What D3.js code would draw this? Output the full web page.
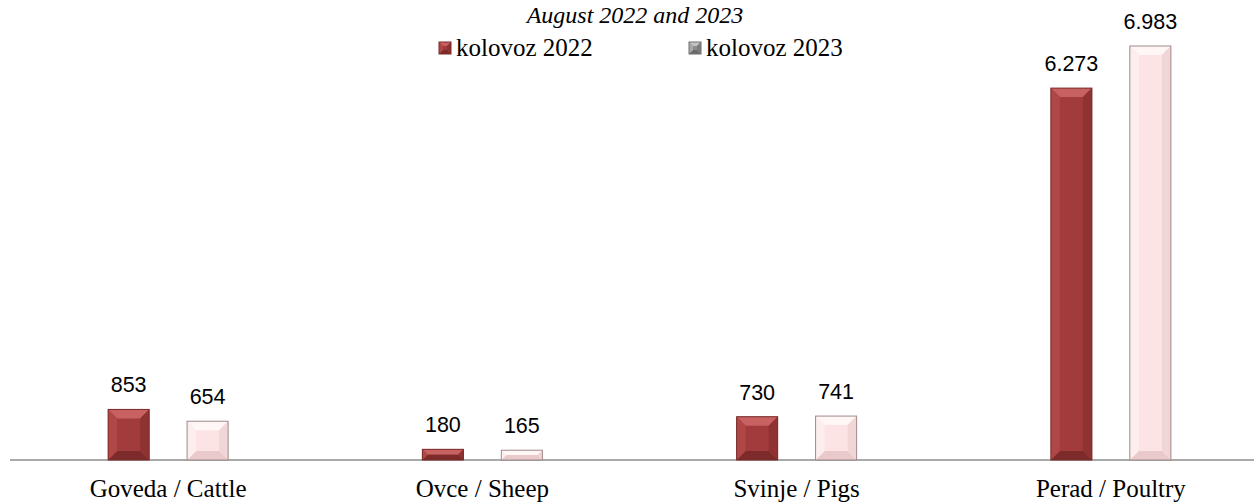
<!DOCTYPE html>
<html>
<head>
<meta charset="utf-8">
<script src="https://cdn.jsdelivr.net/npm/d3@7"></script>
<style>
  body { margin: 0; background: #fff; }
  svg { display: block; }
</style>
</head>
<body>
<svg id="chart" width="1254" height="502"></svg>
<script>
// data
const categories = ["Goveda / Cattle", "Ovce / Sheep", "Svinje / Pigs", "Perad / Poultry"];
const series = ["kolovoz 2022", "kolovoz 2023"];
const values2022 = [853, 180, 730, 6273];
const values2023 = [654, 165, 741, 6983];
const valueLabels2022 = ["853", "180", "730", "6.273"];
const valueLabels2023 = ["654", "165", "741", "6.983"];
const title = "August 2022 and 2023";

const width = 1254, height = 502;
const baseY = 460;

const svg = d3.select("#chart");

// palettes for the bevelled bars: face, top, bottom, sides, border
const styles = {
  "kolovoz 2022": { face: "#a23b3b", top: "#c86262", bottom: "#7d2a2a", left: "#b04747", right: "#8f3232", stroke: "#7a2a2a" },
  "kolovoz 2023": { face: "#fde4e4", top: "#fff6f6", bottom: "#e9c9c9", left: "#fdeeee", right: "#f0d6d6", stroke: "#a08a8a" }
};
const legendStyles = {
  "kolovoz 2022": styles["kolovoz 2022"],
  "kolovoz 2023": { face: "#8c8c8c", top: "#c4c4c4", bottom: "#6a6a6a", left: "#a8a8a8", right: "#7c7c7c", stroke: "#6e6e6e" }
};

const x0 = d3.scaleBand().domain(categories).range([11, 1268]).padding(0);
const bw = x0.bandwidth();
const x1 = d3.scaleBand().domain(series).range([bw / 2 - 60, bw / 2 + 60]).paddingInner(0.48);
const y = d3.scaleLinear().domain([0, 7000]).range([baseY, 45]);

function bevel(g, x, yTop, w, h, st, depth) {
  const d = Math.min(depth, h / 2, w / 2);
  const pts = a => a.map(p => p.join(",")).join(" ");
  g.append("rect").attr("x", x).attr("y", yTop).attr("width", w).attr("height", h).attr("fill", st.face);
  g.append("polygon").attr("fill", st.top)
    .attr("points", pts([[x, yTop], [x + w, yTop], [x + w - d, yTop + d], [x + d, yTop + d]]));
  g.append("polygon").attr("fill", st.bottom)
    .attr("points", pts([[x, yTop + h], [x + w, yTop + h], [x + w - d, yTop + h - d], [x + d, yTop + h - d]]));
  g.append("polygon").attr("fill", st.left)
    .attr("points", pts([[x, yTop], [x + d, yTop + d], [x + d, yTop + h - d], [x, yTop + h]]));
  g.append("polygon").attr("fill", st.right)
    .attr("points", pts([[x + w, yTop], [x + w - d, yTop + d], [x + w - d, yTop + h - d], [x + w, yTop + h]]));
  g.append("rect").attr("x", x).attr("y", yTop).attr("width", w).attr("height", h)
    .attr("fill", "none").attr("stroke", st.stroke).attr("stroke-width", 1);
}

// title, pushed just low enough to stay inside the frame
svg.append("text")
  .attr("x", 635).attr("y", 23)
  .attr("text-anchor", "middle")
  .attr("font-family", "'Liberation Serif', serif")
  .attr("font-style", "italic")
  .attr("font-size", 24)
  .text(title);

// legend
const legendX = [439, 689];
series.forEach((s, i) => {
  const lg = svg.append("g");
  bevel(lg, legendX[i], 42, 12, 12, legendStyles[s], 4);
  lg.append("text")
    .attr("x", legendX[i] + 17).attr("y", 56)
    .attr("font-family", "'Liberation Serif', serif")
    .attr("font-size", 25)
    .text(s);
});

// axis line
svg.append("line")
  .attr("x1", 10).attr("x2", width)
  .attr("y1", baseY).attr("y2", baseY)
  .attr("stroke", "#8c8c8c").attr("stroke-width", 1.5);

const rows = categories.map((c, i) => ({
  cat: c,
  vals: [
    { s: series[0], v: values2022[i], label: valueLabels2022[i] },
    { s: series[1], v: values2023[i], label: valueLabels2023[i] }
  ]
}));

const groups = svg.selectAll("g.cat").data(rows).join("g")
  .attr("class", "cat")
  .attr("transform", d => `translate(${x0(d.cat)},0)`);

groups.each(function (d) {
  const g = d3.select(this);
  d.vals.forEach(b => {
    const bx = x1(b.s), by = y(b.v), bh = baseY - y(b.v);
    bevel(g, bx, by, x1.bandwidth(), bh, styles[b.s], 9);
    g.append("text")
      .attr("x", bx + x1.bandwidth() / 2).attr("y", by - 17)
      .attr("text-anchor", "middle")
      .attr("font-family", "'Liberation Sans', Arial, sans-serif")
      .attr("font-size", 21.5)
      .attr("fill", "#000")
      .text(b.label);
  });
});

// category labels
svg.selectAll("text.cat").data(categories).join("text")
  .attr("class", "cat")
  .attr("x", d => x0(d) + bw / 2)
  .attr("y", 497)
  .attr("text-anchor", "middle")
  .attr("font-family", "'Liberation Serif', serif")
  .attr("font-size", 25)
  .text(d => d);
</script>
</body>
</html>
